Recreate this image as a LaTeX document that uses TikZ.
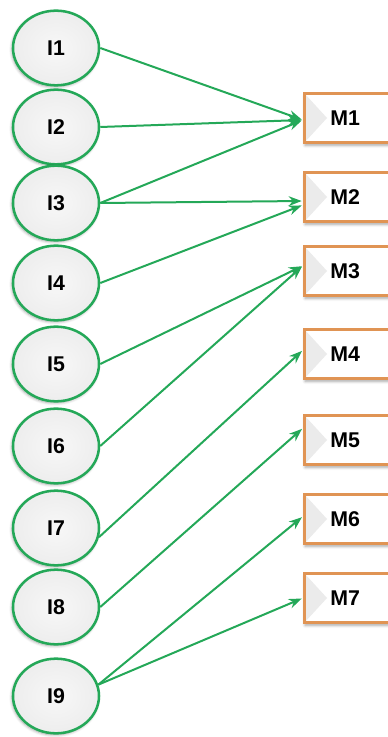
\documentclass[tikz,border=0pt]{standalone}
\usepackage{fontspec}
\setmainfont{Liberation Sans}
\usepackage{tikz}
\usetikzlibrary{arrows.meta,shapes.geometric,shadows.blur}
\definecolor{linkgreen}{RGB}{36,168,88}
\definecolor{boxorange}{RGB}{224,148,84}

\begin{document}
\begin{tikzpicture}[
  x=0.75pt, y=-0.75pt,
  >=Stealth,
  inp/.style={ellipse, draw=linkgreen, line width=1.9pt, minimum width=64.5pt, minimum height=56pt,
    inner sep=0pt, shading=radial, inner color=gray!6, outer color=gray!14,
    font=\bfseries\fontsize{16}{16}\selectfont,
    blur shadow={shadow xshift=-0.8pt, shadow yshift=-1.2pt, shadow blur steps=6, shadow opacity=35}},
  mod/.style={rectangle, anchor=west, draw=boxorange, line width=2pt, fill=white,
    minimum height=37pt, text width=36pt, inner xsep=19.5pt, align=left,
    font=\bfseries\fontsize{16}{16}\selectfont,
    path picture={\fill[gray!16] (path picture bounding box.north west)
      -- ([xshift=17pt]path picture bounding box.west) -- (path picture bounding box.south west) -- cycle;},
    blur shadow={shadow xshift=0.5pt, shadow yshift=-2pt, shadow blur steps=5, shadow opacity=35}},
  link/.style={->, draw=linkgreen, line width=1.5pt, shorten >=1pt}
]
\useasboundingbox (0,0) rectangle (388,737);

% input ellipses
\node[inp] (I1) at (56,48) {I1};
\node[inp] (I2) at (56,127) {I2};
\node[inp] (I3) at (56,203) {I3};
\node[inp] (I4) at (56,283) {I4};
\node[inp] (I5) at (56,364) {I5};
\node[inp] (I6) at (56,446) {I6};
\node[inp] (I7) at (56,528) {I7};
\node[inp] (I8) at (56,607) {I8};
\node[inp] (I9) at (56,696) {I9};

% module boxes
\node[mod] (M1) at (303,118) {M1};
\node[mod] (M2) at (303,197) {M2};
\node[mod] (M3) at (303,271) {M3};
\node[mod] (M4) at (303,354) {M4};
\node[mod] (M5) at (303,440) {M5};
\node[mod] (M6) at (303,519) {M6};
\node[mod] (M7) at (303,598) {M7};

% links
\draw[link] (I1.east) -- ([yshift=-1.5pt]M1.west);
\draw[link] (I2.east) -- ([yshift=-1.5pt]M1.west);
\draw[link] (I3.east) -- ([yshift=-1.5pt]M1.west);
\draw[link] (I3.east) -- ([yshift=-3pt]M2.west);
\draw[link] (I4.east) -- ([yshift=-6pt]M2.west);
\draw[link] (I5.east) -- ([yshift=4pt]M3.west);
\draw[link] (I6.east) -- ([yshift=4pt]M3.west);
\draw[link] (I7.-12) -- ([yshift=3pt]M4.west);
\draw[link] (I8.east) -- ([yshift=9pt]M5.west);
\draw[link] (I9.15) -- ([yshift=2pt]M6.west);
\draw[link] (I9.15) -- (M7.west);
\end{tikzpicture}
\end{document}
